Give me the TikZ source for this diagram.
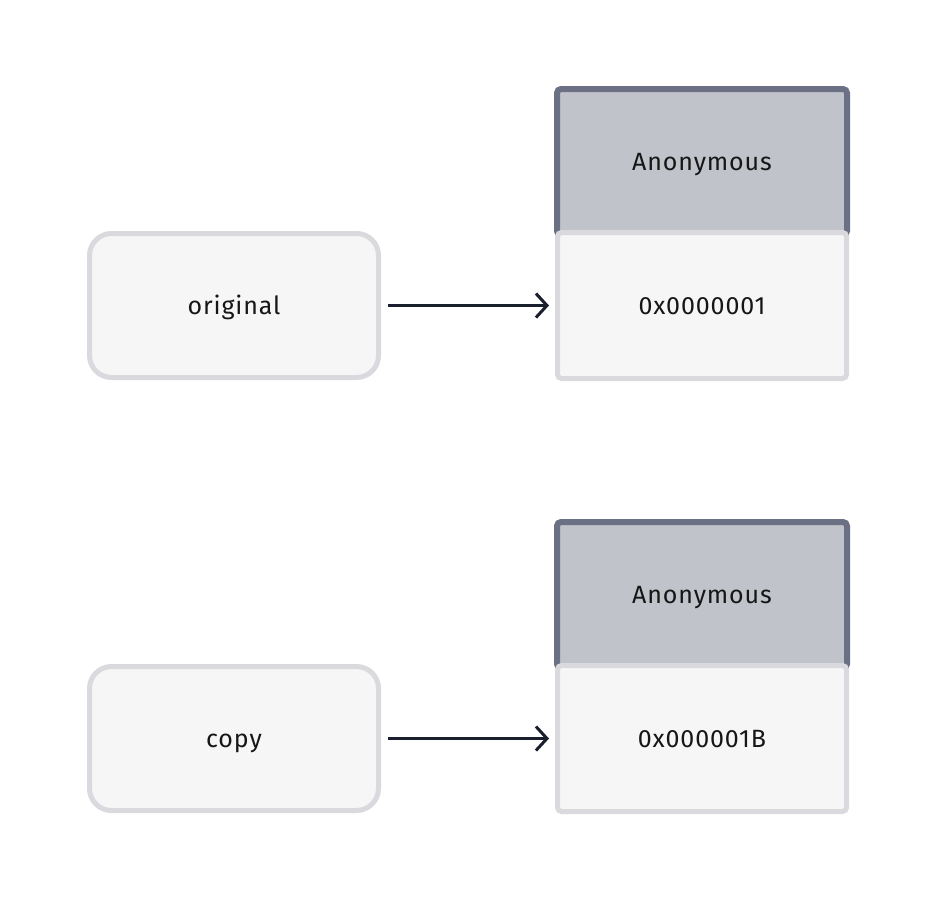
\documentclass[tikz,border=0pt]{standalone}
\usepackage{fontspec}
\setmainfont{Fira Sans}
\newfontfamily\labfont[LetterSpace=3.5]{Fira Sans}
\usetikzlibrary{arrows.meta}
\definecolor{boxfill}{HTML}{F6F6F6}
\definecolor{boxline}{HTML}{D9D9DE}
\definecolor{headfill}{HTML}{C0C3CA}
\definecolor{headline}{HTML}{6B7085}
\definecolor{arrowcol}{HTML}{1A1F2E}
\definecolor{textcol}{HTML}{161616}
\tikzset{
  lab/.style={font=\labfont\fontsize{25}{30}\selectfont, text=textcol, text height=17.2pt, text depth=0pt},
  varbox/.style={lab, draw=boxline, fill=boxfill, line width=5pt, rounded corners=22pt,
    minimum width=289pt, minimum height=144pt, inner sep=0pt},
  headbox/.style={draw=headline, fill=headfill, line width=6pt, rounded corners=4pt,
    minimum width=290pt, minimum height=146pt, inner sep=0pt},
  bodybox/.style={lab, draw=boxline, fill=boxfill, line width=5pt, rounded corners=4pt,
    minimum width=289pt, minimum height=146pt, inner sep=0pt},
  ptr/.style={draw=arrowcol, line width=3pt, -{Straight Barb[length=11pt,width=24pt,line width=3pt]}}
}
\begin{document}
\begin{tikzpicture}[x=1pt,y=-1pt]
\useasboundingbox (0,0) rectangle (936,900);
% top
\node[headbox] (h1) at (702,162) {};
\node[bodybox] (b1) at (702,305.5) {0x0000001};
\node[lab] (t1) at (702,162) {Anonymous};
\node[varbox] (v1) at (234,305.5) {original};
\coordinate (s1) at (388,305.5);
\coordinate (e1) at (549,305.5);
\draw[ptr] (s1) -- (e1);
% bottom
\node[headbox] (h2) at (702,595) {};
\node[bodybox] (b2) at (702,738.5) {0x000001B};
\node[lab] (t2) at (702,595) {Anonymous};
\node[varbox] (v2) at (234,738.5) {copy};
\coordinate (s2) at (388,738.5);
\coordinate (e2) at (549,738.5);
\draw[ptr] (s2) -- (e2);
\end{tikzpicture}
\end{document}
